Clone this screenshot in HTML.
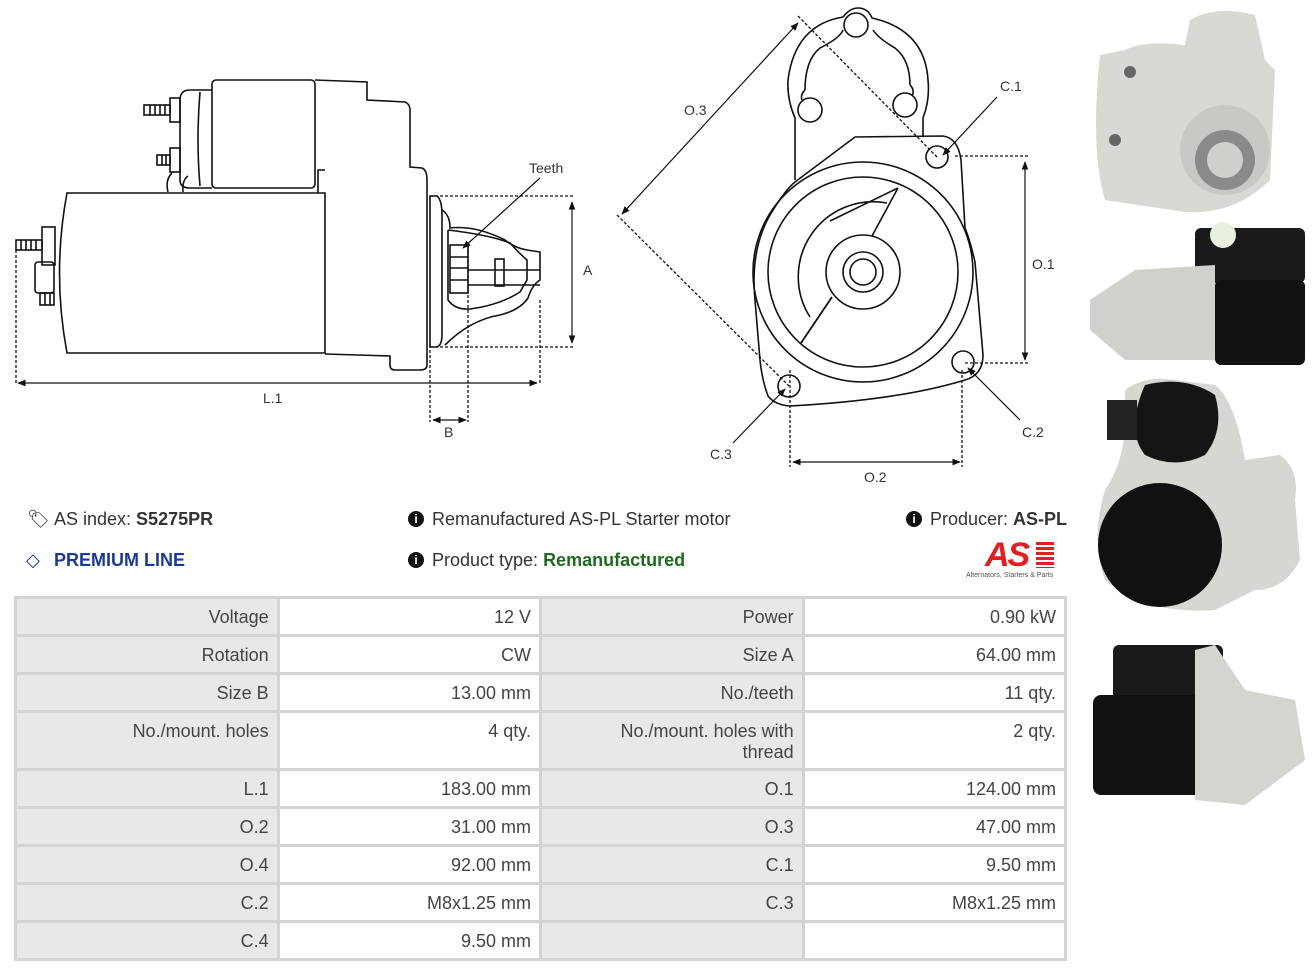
<!DOCTYPE html>
<html><head><meta charset="utf-8"><style>
body{margin:0;width:1316px;height:973px;background:#fff;position:relative;overflow:hidden;font-family:"Liberation Sans",sans-serif;color:#333}
.t{position:absolute;font-size:18px;white-space:nowrap}
table{position:absolute;left:14px;top:596px;border-collapse:collapse;width:1053px}
td{border:3px solid #d4d4d4;font-size:18px;color:#444;text-align:right;padding:0 8px;vertical-align:top;line-height:21px;padding-top:8px;height:27px}
td.l{background:#e8e8e8;width:246px}
td.v{background:#fff;width:246px}
</style></head><body>
<svg width="1316" height="973" style="position:absolute;left:0;top:0" fill="none" stroke="#111" stroke-width="1.6">
<defs><marker id="a" viewBox="0 0 10 10" refX="9" refY="5" markerWidth="7" markerHeight="7" orient="auto-start-reverse"><path d="M0,1 L10,5 L0,9z" fill="#111" stroke="none"/></marker></defs>
<path d="M67,193 L325,193 L325,353 L67,353 Q52,273 67,193Z"/>
<rect x="212" y="80" width="103" height="108" rx="4"/>
<path d="M212,90 L190,90 Q180,90 180,100 L180,180 Q180,188 190,188 L212,188"/>
<path d="M200,92 Q196,140 200,186"/>
<path d="M315,80 L367,82 L367,100 L405,102 Q410,104 410,110 L410,167 L422,168 Q427,170 427,180 L427,365 Q427,370 420,370 L395,370 Q390,370 390,365 L390,356 L325,354"/>
<path d="M325,170 L318,170 L318,193"/>
<path d="M168,192 Q165,180 172,173 M183,192 Q182,180 188,176"/>
<rect x="170" y="98" width="10" height="24"/><rect x="144" y="105" width="26" height="10"/>
<path d="M150,105v10M155,105v10M160,105v10M165,105v10"/>
<rect x="170" y="148" width="10" height="24"/><rect x="157" y="155" width="13" height="10"/>
<path d="M162,155v10M166,155v10"/>
<rect x="42" y="227" width="13" height="38"/><rect x="16" y="240" width="26" height="10"/>
<path d="M21,240v10M26,240v10M31,240v10M36,240v10"/>
<rect x="35" y="262" width="19" height="31" rx="3"/><rect x="40" y="293" width="14" height="12"/>
<path d="M45,293v12M50,293v12"/>
<path d="M430,196 L437,196 Q442,200 442,215 L442,335 Q442,345 437,347 L430,347 Z"/>
<path d="M442,210 Q450,215 450,228 Q475,225 505,240 Q515,248 527,250 L540,252 L540,280 Q532,285 528,298 Q520,310 500,315 Q470,320 445,345"/>
<path d="M448,230 L448,300 Q455,310 470,309 Q500,305 520,292 L527,280 L527,260 Q520,254 510,243 Q490,235 448,230"/>
<rect x="450" y="245" width="18" height="48"/><path d="M450,257h18M450,268h18M450,280h18"/>
<path d="M468,270 L540,270 M468,285 L540,285"/><rect x="495" y="259" width="9" height="27"/>
<g stroke-dasharray="3,2" stroke-width="1.3">
<path d="M430,196 H575 M430,347 H575 M16,250 V385 M540,300 V385 M430,350 V422 M468,245 V422"/>
<path d="M955,156 H1028 M965,363 H1028 M790,370 V467 M962,370 V467 M798,16 L937,157 M617,215 L789,386"/>
</g>
<g stroke-width="1.2">
<path d="M572,202 V343" marker-start="url(#a)" marker-end="url(#a)"/>
<path d="M18,383 H537" marker-start="url(#a)" marker-end="url(#a)"/>
<path d="M433,420 H466" marker-start="url(#a)" marker-end="url(#a)"/>
<path d="M540,178 L463,248" marker-end="url(#a)"/>
<path d="M1025,162 V360" marker-start="url(#a)" marker-end="url(#a)"/>
<path d="M793,462 H960" marker-start="url(#a)" marker-end="url(#a)"/>
<path d="M798,23 L622,214" marker-start="url(#a)" marker-end="url(#a)"/>
<path d="M997,97 L943,155" marker-end="url(#a)"/>
<path d="M1020,420 L968,368" marker-end="url(#a)"/>
<path d="M733,443 L785,389" marker-end="url(#a)"/>
</g>
<path d="M795,180 L795,118 Q787,100 788,80 Q795,25 843,17 Q850,8 858,8 Q868,8 872,18 Q925,30 928,80 Q930,100 923,118 L923,137"/>
<path d="M805,90 Q805,60 820,48 Q840,38 843,30 M873,30 Q878,38 895,48 Q910,60 910,85 M805,90 Q800,95 802,100 M910,85 Q915,90 912,96"/>
<circle cx="856" cy="25" r="12"/><circle cx="810" cy="110" r="12"/><circle cx="905" cy="105" r="12"/>
<path d="M855,137 L943,136 Q958,138 961,160 L965,228 Q970,240 975,262 L983,355 Q983,375 965,380 Q900,400 790,406 Q775,405 768,396 Q762,380 760,360 L755,300 Q750,250 770,215 Q785,190 795,182 Z"/>
<circle cx="863" cy="272" r="110"/><circle cx="863" cy="272" r="95"/>
<path d="M887,203 A75,75 0 0 0 810,317 M830,221 L898,188 M801,343 L832,297" />
<path d="M898,188 L872,236 M832,297 L801,343"/>
<circle cx="863" cy="272" r="37"/><circle cx="863" cy="272" r="20"/><circle cx="863" cy="272" r="13"/>
<circle cx="937" cy="157" r="11"/><circle cx="963" cy="362" r="11"/><circle cx="789" cy="386" r="11"/>
</svg>
<div class="t" style="left:529px;top:160px;font-size:14px">Teeth</div>
<div class="t" style="left:583px;top:262px;font-size:14px">A</div>
<div class="t" style="left:263px;top:390px;font-size:14px">L.1</div>
<div class="t" style="left:444px;top:424px;font-size:14px">B</div>
<div class="t" style="left:684px;top:102px;font-size:14px">O.3</div>
<div class="t" style="left:1000px;top:78px;font-size:14px">C.1</div>
<div class="t" style="left:1032px;top:256px;font-size:14px">O.1</div>
<div class="t" style="left:1022px;top:424px;font-size:14px">C.2</div>
<div class="t" style="left:710px;top:446px;font-size:14px">C.3</div>
<div class="t" style="left:864px;top:469px;font-size:14px">O.2</div>

<div class="t" style="left:27px;top:509px">🏷&#xFE0E;</div>
<div class="t" style="left:54px;top:509px">AS index: <b>S5275PR</b></div>
<div class="t" style="left:26px;top:550px;color:#1a3a9a">◇</div>
<div class="t" style="left:54px;top:550px;color:#1a3a9a;font-weight:bold">PREMIUM LINE</div>
<div class="t" style="left:408px;top:511px;width:16px;height:16px;border-radius:8px;background:#111;color:#fff;font-size:12px;text-align:center;line-height:16px;font-weight:bold">i</div>
<div class="t" style="left:432px;top:509px">Remanufactured AS-PL Starter motor</div>
<div class="t" style="left:408px;top:552px;width:16px;height:16px;border-radius:8px;background:#111;color:#fff;font-size:12px;text-align:center;line-height:16px;font-weight:bold">i</div>
<div class="t" style="left:432px;top:550px">Product type: <b style="color:#1e6b1e">Remanufactured</b></div>
<div class="t" style="left:906px;top:511px;width:16px;height:16px;border-radius:8px;background:#111;color:#fff;font-size:12px;text-align:center;line-height:16px;font-weight:bold">i</div>
<div class="t" style="left:930px;top:509px">Producer: <b>AS-PL</b></div>
<div class="t" style="left:985px;top:536px;color:#e02020;font-size:34px;font-weight:bold;font-style:italic;letter-spacing:-2px">AS</div>
<div style="position:absolute;left:1036px;top:542px;width:18px;height:26px;background:repeating-linear-gradient(#e02020 0 3px,#fff 3px 5px)"></div>
<div class="t" style="left:966px;top:572px;font-size:7px;color:#555">Alternators, Starters &amp; Parts</div>

<table>
<tr><td class="l">Voltage</td><td class="v">12 V</td><td class="l">Power</td><td class="v">0.90 kW</td></tr>
<tr><td class="l">Rotation</td><td class="v">CW</td><td class="l">Size A</td><td class="v">64.00 mm</td></tr>
<tr><td class="l">Size B</td><td class="v">13.00 mm</td><td class="l">No./teeth</td><td class="v">11 qty.</td></tr>
<tr><td class="l" style="height:47px">No./mount. holes</td><td class="v">4 qty.</td><td class="l">No./mount. holes with<br>thread</td><td class="v">2 qty.</td></tr>
<tr><td class="l">L.1</td><td class="v">183.00 mm</td><td class="l">O.1</td><td class="v">124.00 mm</td></tr>
<tr><td class="l">O.2</td><td class="v">31.00 mm</td><td class="l">O.3</td><td class="v">47.00 mm</td></tr>
<tr><td class="l">O.4</td><td class="v">92.00 mm</td><td class="l">C.1</td><td class="v">9.50 mm</td></tr>
<tr><td class="l">C.2</td><td class="v">M8x1.25 mm</td><td class="l">C.3</td><td class="v">M8x1.25 mm</td></tr>
<tr><td class="l">C.4</td><td class="v">9.50 mm</td><td class="l"></td><td class="v"></td></tr>
</table>

<svg width="230" height="820" style="position:absolute;left:1085px;top:0">
<path d="M15,55 L40,50 Q60,40 100,45 L105,20 Q130,5 170,15 L180,60 L190,70 L185,180 Q150,215 100,212 L20,200 Q5,150 15,55Z" fill="#d8d8d4"/>
<circle cx="140" cy="150" r="45" fill="#c8c8c4"/><circle cx="140" cy="160" r="30" fill="#8a8a88"/><circle cx="140" cy="160" r="18" fill="#cfcfcb"/>
<circle cx="45" cy="72" r="6" fill="#666"/><circle cx="30" cy="140" r="6" fill="#666"/>
<rect x="110" y="228" width="110" height="55" rx="6" fill="#1a1a1a"/>
<rect x="130" y="280" width="90" height="85" rx="6" fill="#111"/>
<path d="M5,300 L50,270 L130,265 L130,360 L40,360 L5,330Z" fill="#d0d0cc"/>
<circle cx="138" cy="235" r="13" fill="#e8f0e0"/>
<path d="M40,390 Q60,375 90,380 L130,385 Q150,400 160,460 L195,455 Q215,470 210,500 L215,560 Q200,590 170,590 L130,610 Q60,615 20,580 Q5,540 20,490 Q40,460 40,420Z" fill="#d6d6d2"/>
<circle cx="75" cy="545" r="62" fill="#111"/>
<path d="M60,385 Q100,375 130,395 Q140,430 120,455 Q90,470 60,455 Q40,430 60,385Z" fill="#151515"/>
<rect x="22" y="400" width="30" height="40" fill="#222"/>
<rect x="28" y="645" width="110" height="60" rx="6" fill="#1a1a1a"/>
<rect x="8" y="695" width="110" height="100" rx="8" fill="#111"/>
<path d="M110,650 L130,645 L160,690 L210,700 L220,760 L160,805 L110,800Z" fill="#d4d4d0"/>
</svg>
</body></html>
